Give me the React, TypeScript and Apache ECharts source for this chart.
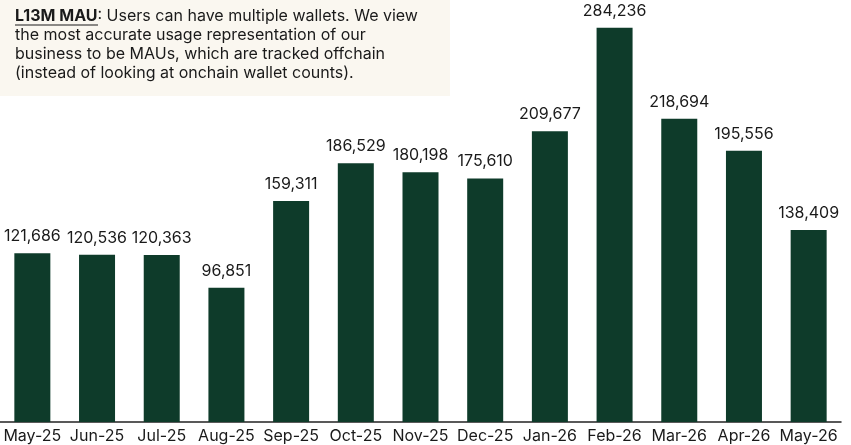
import React, { useEffect, useRef } from "react";
import * as echarts from "echarts";

const categories = ["May-25", "Jun-25", "Jul-25", "Aug-25", "Sep-25", "Oct-25", "Nov-25", "Dec-25", "Jan-26", "Feb-26", "Mar-26", "Apr-26", "May-26"];
const mauValues = [121686, 120536, 120363, 96851, 159311, 186529, 180198, 175610, 209677, 284236, 218694, 195556, 138409];
const noteTitle = "L13M MAU";
const noteLines = [
  ": Users can have multiple wallets. We view",
  "the most accurate usage representation of our",
  "business to be MAUs, which are tracked offchain",
  "(instead of looking at onchain wallet counts).",
];

const FONT = "Inter, 'Noto Sans', sans-serif";

export default function App() {
  const ref = useRef<HTMLDivElement>(null);
  useEffect(() => {
    if (!ref.current) return;
    const chart = echarts.init(ref.current, null, { renderer: "svg" });
    const lineH = 19;
    const textEls: any[] = noteLines.map((t, i) => ({
      type: "text",
      x: 15,
      y: 15 + i * lineH,
      style: i === 0
        ? {
            text: `{b|${noteTitle}}{r|${t}}`,
            rich: {
              b: { fontWeight: "bold", fontSize: 16, fontFamily: FONT, fill: "#1a1a1a" },
              r: { fontSize: 16, fontFamily: FONT, fill: "#1a1a1a" },
            },
            verticalAlign: "middle",
          }
        : {
            text: t,
            fontSize: 16,
            fontFamily: FONT,
            fill: "#1a1a1a",
            verticalAlign: "middle",
          },
      z: 10,
    }));
    chart.setOption({
      animation: false,
      grid: { left: 0, right: 10, top: 6, bottom: 23, containLabel: false },
      xAxis: {
        type: "category",
        data: categories,
        axisLine: { show: true, lineStyle: { color: "#222", width: 1.5 } },
        axisTick: { show: false },
        axisLabel: { color: "#1a1a1a", fontSize: 16, fontFamily: FONT, margin: 5, interval: 0 },
      },
      yAxis: { type: "value", min: 0, max: 300000, show: false, splitLine: { show: false } },
      series: [
        {
          type: "bar",
          data: mauValues,
          barWidth: 36,
          itemStyle: { color: "#0E3B2A" },
          label: {
            show: true,
            position: "top",
            distance: 10,
            color: "#1a1a1a",
            fontSize: 16,
            fontFamily: FONT,
            formatter: (p: any) => Number(p.value).toLocaleString("en-US"),
          },
        },
      ],
      graphic: [
        { type: "rect", shape: { x: 0, y: 0, width: 450, height: 96 }, style: { fill: "#FAF7F0" }, z: 5 },
        ...textEls,
        { type: "line", shape: { x1: 15, y1: 25, x2: 98, y2: 25 }, style: { stroke: "#1a1a1a", lineWidth: 1.2 }, z: 10 },
      ],
    });
    return () => chart.dispose();
  }, []);
  return <div ref={ref} style={{ position: "fixed", left: 0, top: 0, width: 851, height: 445 }} />;
}
